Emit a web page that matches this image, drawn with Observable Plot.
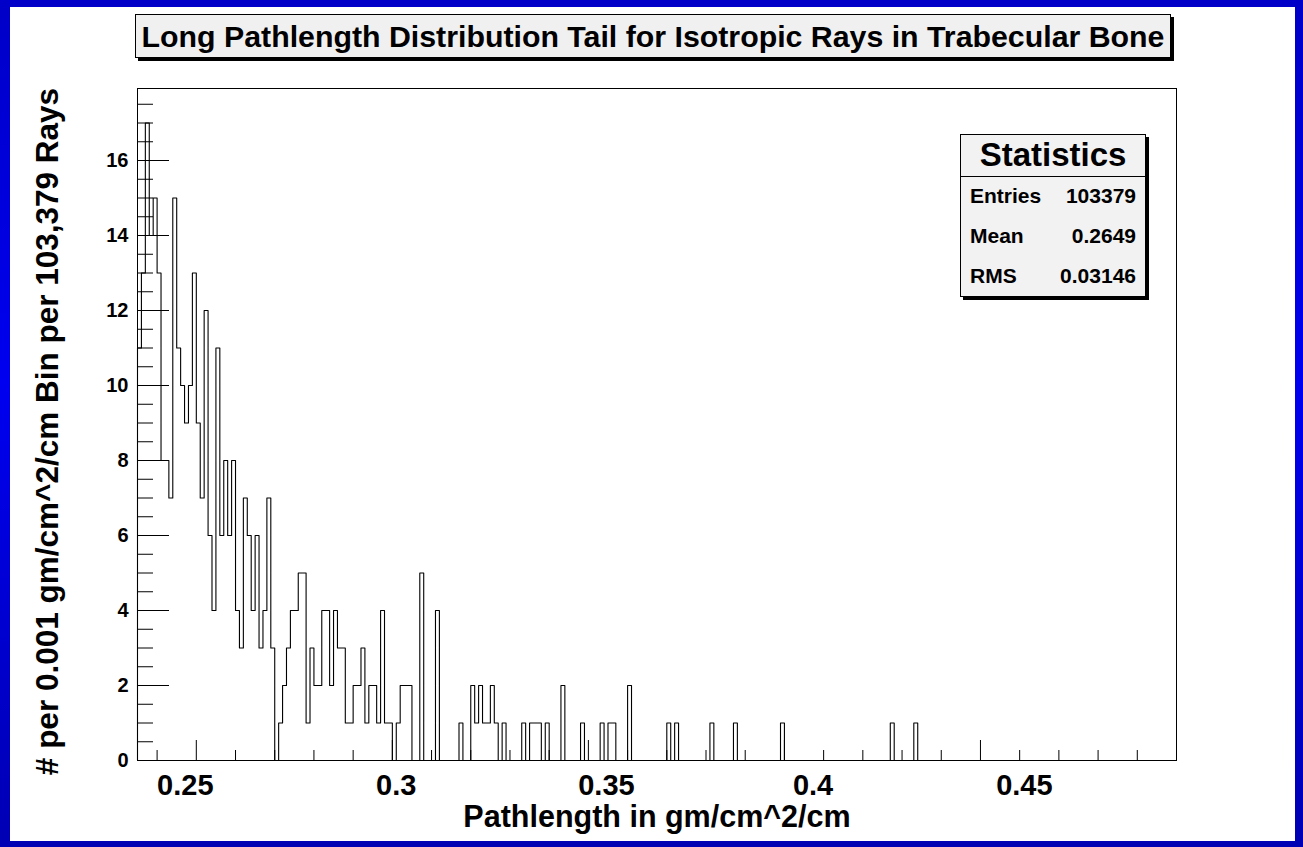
<!DOCTYPE html>
<html>
<head>
<meta charset="utf-8">
<script src="https://cdn.jsdelivr.net/npm/d3@7"></script>
<script src="https://cdn.jsdelivr.net/npm/@observablehq/plot@0.6"></script>
<style>
  html, body { margin: 0; padding: 0; background: #fff; }
  #page { position: relative; width: 1303px; height: 847px; overflow: hidden; background: #fff;
          font-family: "Liberation Sans", Arial, Helvetica, sans-serif; }
  #chart { position: absolute; left: 0; top: 0; }
  #border { position: absolute; left: 0; top: 0; width: 1303px; height: 847px; box-sizing: border-box;
            border-style: solid; border-width: 7px 8px 6px 10px;
            border-image: linear-gradient(to bottom, #0000c8, #0000f0 45%, #0000b4) 1; pointer-events: none; }
  #titlebox { position: absolute; left: 135px; top: 14px; width: 1036px; height: 44px; box-sizing: border-box;
              background: #f0f0f0; border: 1px solid #000; box-shadow: 3px 3px 0 #000;
              font-weight: bold; font-size: 30.3px; text-align: center; line-height: 43px; color: #000; white-space: nowrap; }
  #stats { position: absolute; left: 960px; top: 134px; width: 186px; height: 163px; box-sizing: border-box;
           background: #f2f2f2; border: 1px solid #000; box-shadow: 3px 3px 0 #000; color: #000; font-weight: bold; }
  #stats .head { height: 41px; border-bottom: 1px solid #000; font-size: 33px; text-align: center; line-height: 40px; }
  #stats .row { position: relative; height: 40px; font-size: 21px; line-height: 37px; }
  #stats .row .k { position: absolute; left: 9px; }
  #stats .row .v { position: absolute; right: 9px; }
</style>
</head>
<body>
<div id="page">
  <div id="chart"></div>
  <div id="titlebox"></div>
  <div id="stats"></div>
  <div id="border"></div>
</div>
<script>
// ---------- data ----------
const titleText = "Long Pathlength Distribution Tail for Isotropic Rays in Trabecular Bone";
const xTitle = "Pathlength in gm/cm^2/cm";
const yTitle = "# per 0.001 gm/cm^2/cm Bin per 103,379 Rays";

const statsLabels = ["Entries", "Mean", "RMS"];
const statsValues = ["103379", "0.2649", "0.03146"];

const xDomain = [0.235, 0.5];
const yDomain = [0, 17.92];

const binLow = 0.235;     // low edge of the first visible bin
const binWidth = 0.001;
// counts per bin, starting at 0.235 (bins after the last entry are empty)
const counts = [
  11, 13, 17, 14, 15, 13, 8, 8, 7, 15,
  11, 10, 9, 10, 13, 9, 7, 12, 6, 4,
  11, 6, 8, 6, 8, 4, 3, 7, 6, 4,
  6, 3, 4, 7, 3, 0, 1, 2, 3, 4,
  4, 5, 5, 1, 3, 2, 2, 4, 4, 2,
  4, 3, 3, 1, 1, 2, 2, 3, 1, 2,
  2, 1, 4, 1, 1, 0, 1, 2, 2, 2,
  0, 0, 5, 0, 0, 0, 4, 0, 0, 0,
  0, 0, 1, 0, 0, 2, 1, 2, 1, 1,
  2, 1, 0, 1, 0, 0, 0, 0, 1, 0,
  1, 1, 1, 0, 1, 0, 0, 0, 2, 0,
  0, 0, 0, 1, 0, 0, 0, 0, 1, 0,
  1, 1, 0, 0, 0, 2, 0, 0, 0, 0,
  0, 0, 0, 0, 0, 1, 0, 1, 0, 0,
  0, 0, 0, 0, 0, 0, 1, 0, 0, 0,
  0, 0, 1, 0, 0, 0, 0, 0, 0, 0,
  0, 0, 0, 0, 1, 0, 0, 0, 0, 0,
  0, 0, 0, 0, 0, 0, 0, 0, 0, 0,
  0, 0, 0, 0, 0, 0, 0, 0, 0, 0,
  0, 0, 1, 0, 0, 0, 0, 0, 1
];

const xMajorTicks = [0.25, 0.3, 0.35, 0.4, 0.45];
const xMinorTicks = [0.24, 0.26, 0.27, 0.28, 0.29, 0.31, 0.32, 0.33, 0.34, 0.36, 0.37, 0.38, 0.39,
                     0.41, 0.42, 0.43, 0.44, 0.46, 0.47, 0.48, 0.49];
// tick labels, at the positions where the reference prints them
const xLabels = ["0.25", "0.3", "0.35", "0.4", "0.45"];
const xLabelPos = [0.2472, 0.3010, 0.3546, 0.4073, 0.4612];

const yMajorTicks = [0, 2, 4, 6, 8, 10, 12, 14, 16];
const yMinorTicks = [0.5, 1, 1.5, 2.5, 3, 3.5, 4.5, 5, 5.5, 6.5, 7, 7.5, 8.5, 9, 9.5, 10.5, 11, 11.5,
                     12.5, 13, 13.5, 14.5, 15, 15.5, 16.5, 17, 17.5];
const yLabels = ["0", "2", "4", "6", "8", "10", "12", "14", "16"];

// ---------- build step outline (ROOT style) ----------
const outline = [{x: binLow, y: 0}];
counts.forEach((c, i) => {
  outline.push({x: binLow + i * binWidth, y: c});
  outline.push({x: binLow + (i + 1) * binWidth, y: c});
});
outline.push({x: binLow + counts.length * binWidth, y: 0});
outline.push({x: xDomain[1], y: 0});

const bold = {fontWeight: "bold", fill: "#000"};

const chart = Plot.plot({
  width: 1303,
  height: 847,
  marginLeft: 137,
  marginRight: 127,
  marginTop: 88,
  marginBottom: 87,
  style: {fontFamily: "'Liberation Sans', Arial, Helvetica, sans-serif", background: "#fff", overflow: "visible"},
  x: {domain: xDomain, axis: null},
  y: {domain: yDomain, axis: null},
  marks: [
    Plot.line(outline, {x: "x", y: "y", stroke: "#000", strokeWidth: 1.1}),
    // inward ticks
    Plot.axisY({ticks: yMinorTicks, tickSize: 16, dx: 16, tickFormat: () => "", label: null, stroke: "#000"}),
    Plot.axisY({ticks: yMajorTicks, tickSize: 32, dx: 32, tickFormat: () => "", label: null, stroke: "#000"}),
    Plot.axisX({ticks: xMinorTicks, tickSize: 10, dy: -10, tickFormat: () => "", label: null, stroke: "#000"}),
    Plot.axisX({ticks: xMajorTicks, tickSize: 20, dy: -20, tickFormat: () => "", label: null, stroke: "#000"}),
    // y tick labels
    Plot.text(yMajorTicks, {y: d => d, text: (d, i) => yLabels[i], frameAnchor: "left", textAnchor: "end",
      lineAnchor: "middle", dx: -9, fontSize: 20, ...bold}),
    // x tick labels
    Plot.text(xLabelPos, {x: d => d, text: (d, i) => xLabels[i], frameAnchor: "bottom", lineAnchor: "middle",
      textAnchor: "middle", dy: 25, fontSize: 29, ...bold}),
    // axis titles
    Plot.text([xTitle], {frameAnchor: "bottom", lineAnchor: "middle", textAnchor: "middle", dy: 57,
      fontSize: 30.5, ...bold}),
    Plot.text([yTitle], {frameAnchor: "left", rotate: -90, textAnchor: "middle", lineAnchor: "middle",
      dx: -90, dy: 7, fontSize: 31.5, ...bold}),
    Plot.frame({stroke: "#000", strokeWidth: 1})
  ]
});
document.getElementById("chart").appendChild(chart);

document.getElementById("titlebox").textContent = titleText;
const stats = document.getElementById("stats");
const head = document.createElement("div");
head.className = "head";
head.textContent = "Statistics";
stats.appendChild(head);
statsLabels.forEach((k, i) => {
  const row = document.createElement("div");
  row.className = "row";
  const a = document.createElement("span"); a.className = "k"; a.textContent = k;
  const b = document.createElement("span"); b.className = "v"; b.textContent = statsValues[i];
  row.appendChild(a); row.appendChild(b);
  stats.appendChild(row);
});
</script>
</body>
</html>
